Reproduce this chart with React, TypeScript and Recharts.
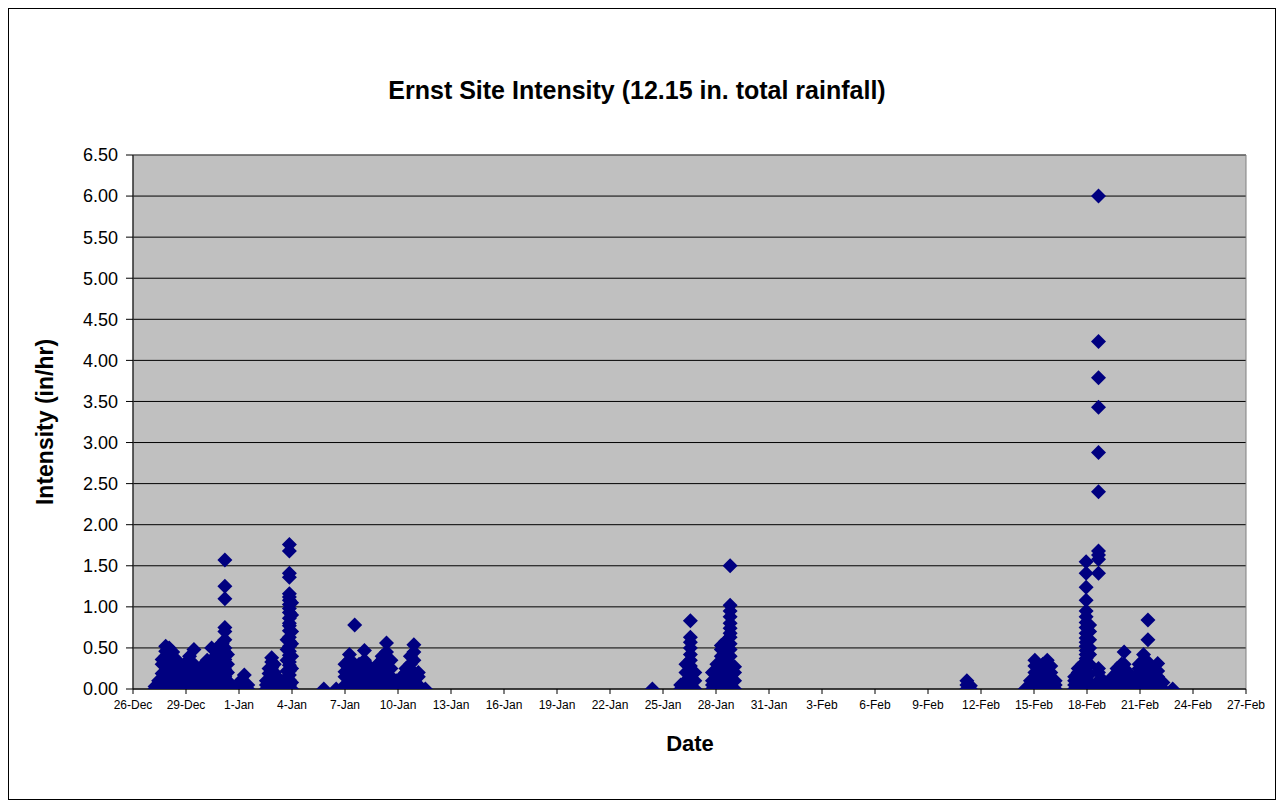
import React from 'react'
import { ScatterChart, Scatter, XAxis, YAxis, CartesianGrid, ReferenceArea } from 'recharts'

// each column: [days since 26-Dec, intensities (in/hr) recorded around that time]
type Col = [number, number[]]

const xTickDays = [0, 3, 6, 9, 12, 15, 18, 21, 24, 27, 30, 33, 36, 39, 42, 45, 48, 51, 54, 57, 60, 63]
const xTickLabels = [
  '26-Dec', '29-Dec', '1-Jan', '4-Jan', '7-Jan', '10-Jan', '13-Jan', '16-Jan', '19-Jan', '22-Jan', '25-Jan',
  '28-Jan', '31-Jan', '3-Feb', '6-Feb', '9-Feb', '12-Feb', '15-Feb', '18-Feb', '21-Feb', '24-Feb', '27-Feb',
]
const yTicks = [0, 0.5, 1, 1.5, 2, 2.5, 3, 3.5, 4, 4.5, 5, 5.5, 6, 6.5]

const stormLateDec: Col[] = [
  [1.25, [0, 0.03]],
  [1.45, [0, 0.05, 0.1]],
  [1.65, [0, 0.1, 0.19, 0.3, 0.36]],
  [1.85, [0, 0.14, 0.29, 0.4, 0.46, 0.52]],
  [2.05, [0, 0.11, 0.24, 0.35, 0.43, 0.5]],
  [2.25, [0, 0.2, 0.31, 0.39, 0.45]],
  [2.45, [0, 0.09, 0.21, 0.3, 0.36]],
  [2.7, [0, 0.06, 0.15, 0.26]],
  [2.95, [0, 0.1, 0.2, 0.31]],
  [3.2, [0, 0.16, 0.25, 0.34, 0.4]],
  [3.45, [0, 0.12, 0.3, 0.48]],
  [3.7, [0, 0.05, 0.14, 0.21]],
  [3.95, [0, 0.1, 0.2, 0.29]],
  [4.2, [0, 0.15, 0.24, 0.31, 0.35]],
  [4.45, [0, 0.1, 0.21, 0.3, 0.5]],
  [4.7, [0, 0.16, 0.26, 0.34, 0.41]],
  [4.85, [0, 0.2, 0.31, 0.44, 0.52]],
  [5.05, [0, 0.1, 0.28, 0.39, 0.55]],
  [5.2, [0, 0.06, 0.15, 0.24, 0.36, 0.45, 0.5, 0.6, 0.7, 0.75, 1.1, 1.25, 1.57]],
  [5.35, [0, 0.1, 0.2, 0.3, 0.42]],
  [5.55, [0, 0.05]],
  [6.1, [0, 0.05, 0.1]],
  [6.3, [0, 0.04, 0.17]],
  [6.5, [0, 0.05]],
]

const stormEarlyJan: Col[] = [
  [7.55, [0, 0.05, 0.1]],
  [7.7, [0, 0.1, 0.19, 0.25]],
  [7.85, [0, 0.15, 0.26, 0.33, 0.38]],
  [8.0, [0, 0.1, 0.2, 0.3]],
  [8.15, [0, 0.05, 0.15]],
  [8.4, [0, 0.05]],
  [8.72, [0, 0.06, 0.14, 0.22, 0.35, 0.48, 0.6]],
  [8.85, [0, 0.04, 0.11, 0.17, 0.22, 0.29, 0.33, 0.41, 0.46, 0.52, 0.58, 0.63, 0.71, 0.77, 0.8, 0.86, 0.93, 0.98, 1.03, 1.08, 1.12, 1.16, 1.36, 1.41, 1.68, 1.76]],
  [8.98, [0, 0.08, 0.25, 0.4, 0.55, 0.7, 0.9, 1.05]],
]

const stormMidJan: Col[] = [
  [10.8, [0]],
  [11.5, [0]],
  [12.0, [0, 0.05, 0.15, 0.21, 0.3]],
  [12.25, [0, 0.1, 0.2, 0.3, 0.35, 0.42]],
  [12.55, [0, 0.05, 0.15, 0.25, 0.3, 0.78]],
  [12.8, [0, 0.1, 0.2, 0.27, 0.3]],
  [13.1, [0, 0.05, 0.15, 0.25, 0.35, 0.47]],
  [13.35, [0, 0.1, 0.2, 0.28]],
  [13.6, [0, 0.05, 0.15, 0.2]],
  [13.85, [0, 0.1, 0.2, 0.25, 0.3]],
  [14.1, [0, 0.05, 0.15, 0.25, 0.35, 0.4]],
  [14.35, [0, 0.1, 0.2, 0.3, 0.45, 0.56]],
  [14.6, [0, 0.05, 0.15, 0.25, 0.35]],
  [14.9, [0, 0.05, 0.1]],
  [15.2, [0, 0.05, 0.1, 0.15]],
  [15.45, [0, 0.1, 0.2, 0.25]],
  [15.7, [0, 0.05, 0.15, 0.3, 0.4]],
  [15.9, [0, 0.1, 0.2, 0.35, 0.45, 0.54]],
  [16.15, [0, 0.05, 0.15, 0.2]],
  [16.55, [0]],
]

const stormLateJan: Col[] = [
  [29.4, [0]],
  [31.0, [0, 0.05]],
  [31.3, [0, 0.1, 0.2, 0.3]],
  [31.55, [0, 0.05, 0.13, 0.2, 0.28, 0.35, 0.42, 0.5, 0.57, 0.63, 0.83]],
  [31.8, [0, 0.1, 0.2]],
  [32.8, [0, 0.05, 0.1, 0.2]],
  [33.05, [0, 0.1, 0.2, 0.3]],
  [33.3, [0, 0.08, 0.18, 0.25, 0.33, 0.4, 0.48, 0.53]],
  [33.55, [0, 0.1, 0.2, 0.3, 0.4, 0.5, 0.58]],
  [33.8, [0, 0.1, 0.2, 0.3, 0.4, 0.48, 0.55, 0.63, 0.68, 0.74, 0.8, 0.88, 0.95, 1.02, 1.5]],
  [34.05, [0, 0.1, 0.2, 0.27]],
]

const stormFeb11: Col[] = [
  [47.2, [0, 0.05, 0.1]],
  [47.4, [0, 0.04]],
]

const stormFeb18: Col[] = [
  [50.5, [0]],
  [50.8, [0, 0.05, 0.1]],
  [51.05, [0, 0.1, 0.2, 0.28, 0.35]],
  [51.3, [0, 0.05, 0.15, 0.25]],
  [51.5, [0, 0.1, 0.2, 0.3]],
  [51.75, [0, 0.05, 0.15, 0.25, 0.35]],
  [51.95, [0, 0.1, 0.2, 0.28]],
  [52.2, [0, 0.05, 0.1]],
  [53.3, [0, 0.05, 0.1, 0.15]],
  [53.5, [0, 0.05, 0.12, 0.2, 0.25]],
  [53.75, [0, 0.1, 0.2, 0.3]],
  [53.95, [0, 0.06, 0.1, 0.16, 0.21, 0.26, 0.31, 0.37, 0.42, 0.47, 0.52, 0.57, 0.62, 0.68, 0.75, 0.81, 0.88, 0.95, 1.08, 1.24, 1.41, 1.55]],
  [54.15, [0, 0.08, 0.18, 0.3, 0.42, 0.5, 0.6, 0.7, 0.78]],
  [54.65, [0, 0.05, 0.1, 0.2, 0.25, 1.41, 1.58, 1.63, 1.68, 2.4, 2.88, 3.43, 3.79, 4.23, 6.0]],
  [54.85, [0, 0.05, 0.12]],
  [55.2, [0, 0.05]],
  [55.45, [0, 0.05, 0.1, 0.15]],
  [55.7, [0, 0.1, 0.2, 0.25]],
  [55.95, [0, 0.05, 0.15, 0.25, 0.3]],
  [56.1, [0, 0.1, 0.2, 0.3, 0.45]],
  [56.35, [0, 0.05, 0.15, 0.2]],
  [56.7, [0, 0.1, 0.15]],
  [56.95, [0, 0.05, 0.15, 0.25, 0.3]],
  [57.2, [0, 0.1, 0.2, 0.3, 0.35, 0.42]],
  [57.45, [0, 0.05, 0.15, 0.25, 0.33, 0.6, 0.84]],
  [57.7, [0, 0.1, 0.2, 0.25]],
  [58.0, [0, 0.05, 0.15, 0.22, 0.31]],
  [58.3, [0, 0.08]],
  [58.85, [0]],
]

const storms = [stormLateDec, stormEarlyJan, stormMidJan, stormLateJan, stormFeb11, stormFeb18]

const points = storms.flatMap((cols) =>
  cols.flatMap(([day, vals]) => vals.map((v) => ({ day, intensity: v })))
)

const font = 'Arial, "Liberation Sans", sans-serif'

const Diamond = (props: any) => {
  const { cx, cy } = props
  if (cx == null || cy == null) return null
  const r = 7.5
  return (
    <polygon
      points={`${cx},${cy - r} ${cx + r},${cy} ${cx},${cy + r} ${cx - r},${cy}`}
      fill="#000080"
    />
  )
}

export default function App() {
  return (
    <div
      style={{
        position: 'relative',
        width: 1268,
        height: 792,
        border: '1px solid #000',
        boxSizing: 'border-box',
        background: '#fff',
        fontFamily: font,
      }}
    >
      <div
        style={{
          position: 'absolute',
          left: 0,
          width: 1256,
          top: 66,
          textAlign: 'center',
          fontSize: 25,
          fontWeight: 'bold',
          lineHeight: '30px',
        }}
      >
        Ernst Site Intensity (12.15 in. total rainfall)
      </div>
      <div
        style={{
          position: 'absolute',
          left: 36,
          top: 413,
          transform: 'translate(-50%, -50%) rotate(-90deg)',
          fontSize: 23,
          fontWeight: 'bold',
          whiteSpace: 'nowrap',
        }}
      >
        Intensity (in/hr)
      </div>
      <div
        style={{
          position: 'absolute',
          left: 681,
          top: 735,
          transform: 'translate(-50%, -50%)',
          fontSize: 22,
          fontWeight: 'bold',
        }}
      >
        Date
      </div>
      <ScatterChart
        width={1266}
        height={790}
        margin={{ top: 146, right: 29, bottom: 80, left: 44 }}
      >
        <CartesianGrid fill="#C0C0C0" fillOpacity={1} vertical={false} stroke="#000" strokeOpacity={1} />
        <ReferenceArea x1={0} x2={63} y1={0} y2={6.5} fill="none" stroke="#808080" strokeWidth={1} />
        <XAxis
          type="number"
          dataKey="day"
          domain={[0, 63]}
          ticks={xTickDays}
          interval={0}
          allowDataOverflow
          tickFormatter={(v: number) => xTickLabels[xTickDays.indexOf(v)] ?? ''}
          height={30}
          tickSize={5}
          tickMargin={6}
          stroke="#000"
          tick={{ fill: '#000', fontSize: 12, fontFamily: font }}
        />
        <YAxis
          type="number"
          dataKey="intensity"
          domain={[0, 6.5]}
          ticks={yTicks}
          interval={0}
          allowDataOverflow
          tickFormatter={(v: number) => v.toFixed(2)}
          width={80}
          tickSize={7}
          tickMargin={8}
          stroke="#000"
          tick={{ fill: '#000', fontSize: 18, fontFamily: font }}
        />
        <Scatter data={points} shape={Diamond} isAnimationActive={false} />
      </ScatterChart>
    </div>
  )
}
